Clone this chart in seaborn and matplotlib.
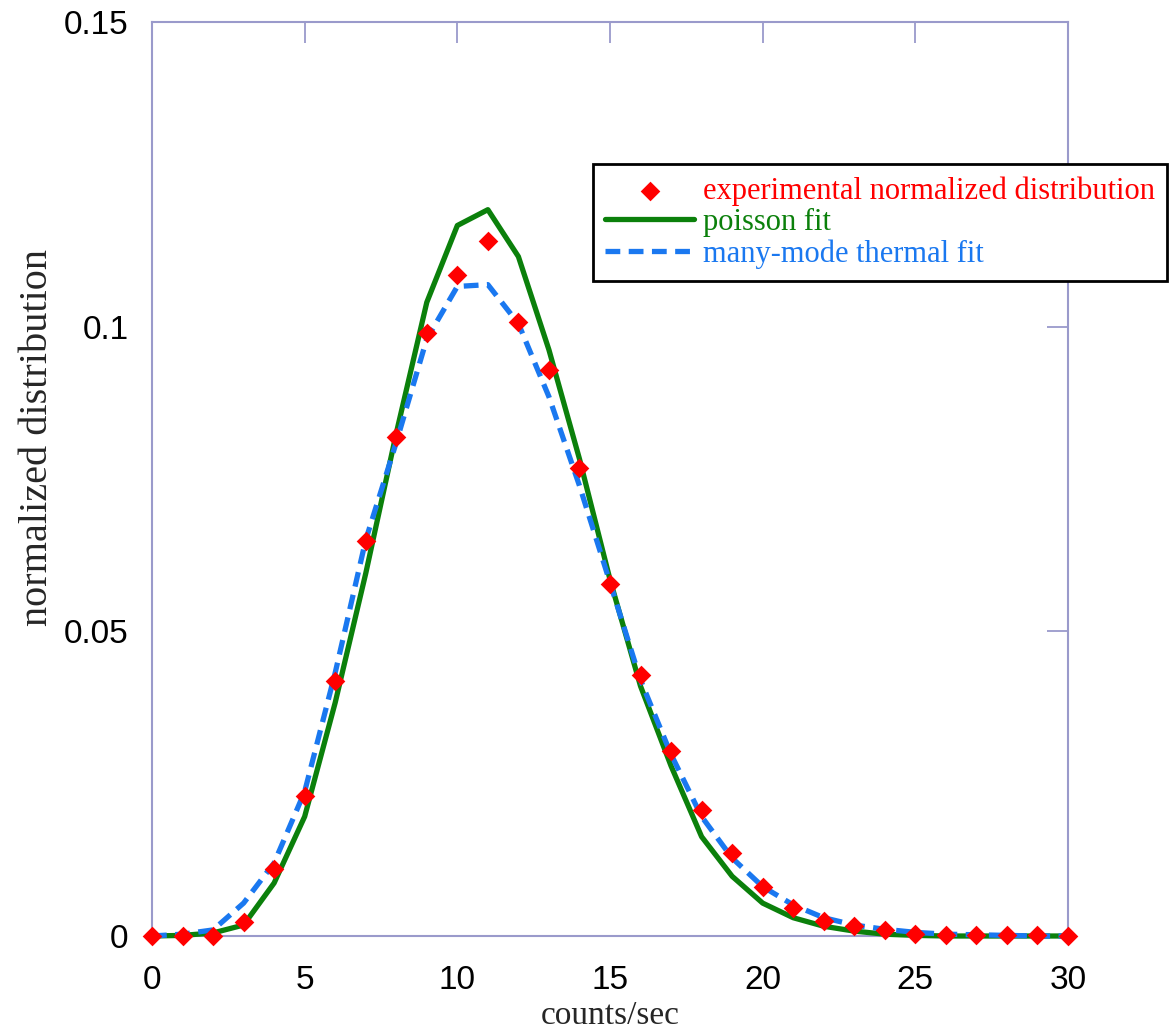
import numpy as np
import pandas as pd
import matplotlib
matplotlib.use("Agg")
import matplotlib.pyplot as plt
import seaborn as sns

# counts per second (bins) and the three distributions
counts = list(range(31))
experimental = [0, 0, 0, 0.0023, 0.011, 0.0229, 0.0419, 0.0648, 0.0819, 0.099,
                0.1084, 0.114, 0.1007, 0.0929, 0.0768, 0.0577, 0.0429, 0.0303,
                0.0207, 0.0136, 0.0081, 0.0046, 0.0024, 0.0016, 0.001, 0.0003,
                0.0002, 0.0001, 0.0001, 0.0001, 0]
poisson_fit = [0, 0.0001, 0.0005, 0.0018, 0.0087, 0.0196, 0.0383, 0.0595, 0.0825,
               0.104, 0.1166, 0.1192, 0.1115, 0.0962, 0.0783, 0.0585, 0.041,
               0.0279, 0.0163, 0.0098, 0.0054, 0.003, 0.0016, 0.0008, 0.0003,
               0.0001, 0, 0, 0, 0, 0]
thermal_fit = [0, 0.0003, 0.001, 0.0054, 0.012, 0.0237, 0.0432, 0.065, 0.081,
               0.098, 0.1066, 0.1069, 0.1005, 0.0885, 0.0739, 0.058, 0.042,
               0.0298, 0.0196, 0.0128, 0.0081, 0.0051, 0.003, 0.0018, 0.0011,
               0.0006, 0.0003, 0.0002, 0.0001, 0, 0]

x_ticks = [0, 5, 10, 15, 20, 25, 30]
y_ticks = [0, 0.05, 0.1, 0.15]
y_tick_labels = ["0", "0.05", "0.1", "0.15"]

df = pd.DataFrame({"counts": counts, "experimental": experimental,
                   "poisson": poisson_fit, "thermal": thermal_fit})

sns.set_style("white")
plt.rcParams["font.family"] = ["Liberation Sans", "DejaVu Sans"]
SERIF = ["Liberation Serif", "DejaVu Serif"]

RED = "#ff0000"
GREEN = "#0b800b"
BLUE = "#1a78f0"
SPINE = "#9a9acb"

W, H = 1172, 1034
fig = plt.figure(figsize=(W / 100, H / 100), dpi=100)
ax = fig.add_axes([152 / W, 1 - 936 / H, (1068 - 152) / W, (936 - 22) / H])

sns.lineplot(data=df, x="counts", y="poisson", ax=ax, color=GREEN, linewidth=3.8,
             label="poisson fit", clip_on=False, zorder=3)
sns.lineplot(data=df, x="counts", y="thermal", ax=ax, color=BLUE, linewidth=3.8,
             linestyle=(0, (2.8, 1.6)), label="many-mode thermal fit",
             clip_on=False, zorder=4)
sns.scatterplot(data=df, x="counts", y="experimental", ax=ax, color=RED,
                marker="D", s=100, linewidth=0,
                label="experimental normalized distribution",
                clip_on=False, zorder=5)

ax.set_xlim(0, 30)
ax.set_ylim(0, 0.15)
ax.set_xticks(x_ticks)
ax.set_yticks(y_ticks)
ax.set_yticklabels(y_tick_labels)

for s in ax.spines.values():
    s.set_color(SPINE)
    s.set_linewidth(1.5)

ax.tick_params(axis="both", direction="in", length=15, width=1.3, color=SPINE,
               top=True, right=True, labelsize=24, labelcolor="black")
ax.tick_params(axis="x", pad=21)
ax.tick_params(axis="y", pad=17)

ax.set_xlabel("counts/sec", fontsize=24, family=SERIF)
ax.xaxis.set_label_coords(0.5, -(1000 - 936) / 914)
ax.set_ylabel("normalized distribution", fontsize=29, family=SERIF)
ax.yaxis.set_label_coords((56 - 152) / 916, (936 - 437) / 914)

handles, labels = ax.get_legend_handles_labels()
order = [labels.index("experimental normalized distribution"),
         labels.index("poisson fit"), labels.index("many-mode thermal fit")]
leg = ax.legend([handles[i] for i in order], [labels[i] for i in order],
                loc="upper left", bbox_to_anchor=(593 / W, 1 - 164 / H),
                bbox_transform=fig.transFigure, borderaxespad=0, frameon=True,
                fancybox=False, framealpha=1, edgecolor="black",
                prop={"family": SERIF, "size": 22},
                handlelength=2.9, handletextpad=0.3, labelspacing=0.08,
                borderpad=0.4)
leg.get_frame().set_linewidth(2)
for txt, col in zip(leg.get_texts(), [RED, GREEN, BLUE]):
    txt.set_color(col)

fig.savefig("out.png", dpi=100, facecolor="white")
